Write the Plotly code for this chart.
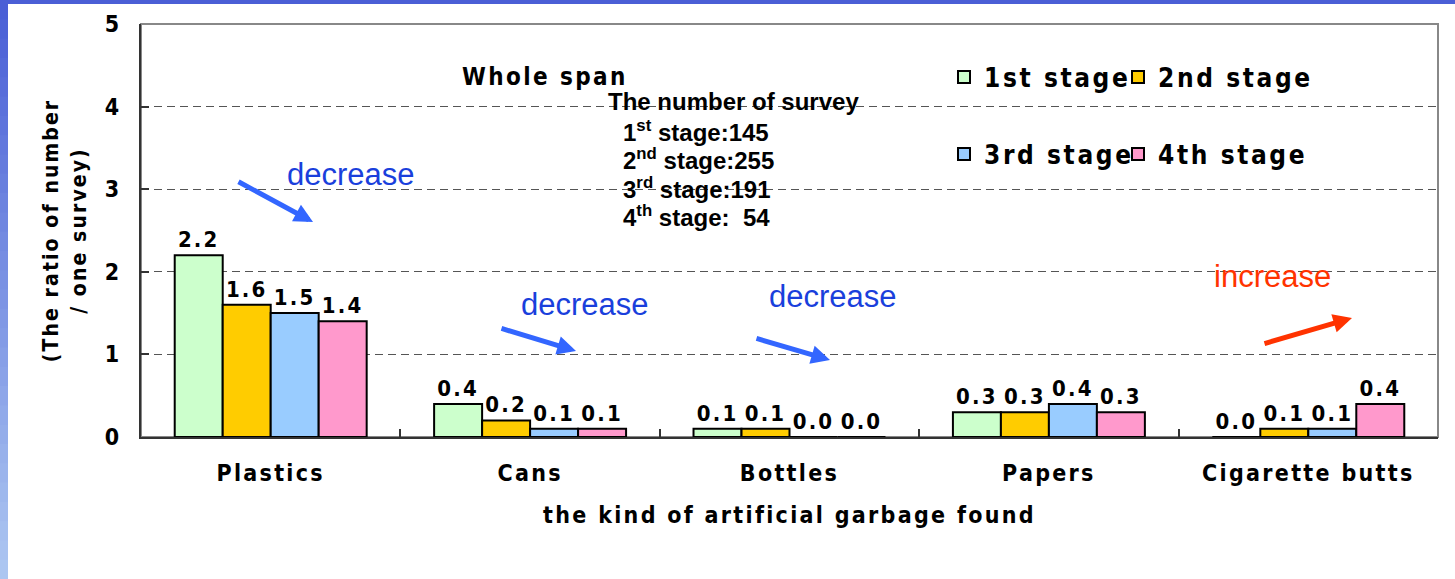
import plotly.graph_objects as go

# ---------------- data ----------------
categories = ["Plastics", "Cans", "Bottles", "Papers", "Cigarette butts"]
stage_names = ["1st stage", "2nd stage", "3rd stage", "4th stage"]
stage1 = [2.2, 0.4, 0.1, 0.3, 0.0]
stage2 = [1.6, 0.2, 0.1, 0.3, 0.1]
stage3 = [1.5, 0.1, 0.0, 0.4, 0.1]
stage4 = [1.4, 0.1, 0.0, 0.3, 0.4]
survey_ordinals = [("1", "st"), ("2", "nd"), ("3", "rd"), ("4", "th")]
survey_counts = [145, 255, 191, 54]
y_ticks = [0, 1, 2, 3, 4, 5]

# ---------------- styling ----------------
colors = ["#CCFFCC", "#FFCC00", "#99CCFF", "#FF99CC"]
W, H = 1455, 579
ML, MR, MT, MB = 141, 17, 24, 142
PW, PH = W - ML - MR, H - MT - MB
COND = "DejaVu Sans Condensed, Liberation Sans Narrow, sans-serif"
SANS = "Liberation Sans, Arial, sans-serif"


def px(x):
    return (x - ML) / PW


def py(y):
    return (H - MB - y) / PH


# legend placement (symbol centre x, row centre y) for each stage
legend_pos = [(962, 77), (1136, 77), (962, 154), (1136, 154)]
legend_ids = ["legend", "legend2", "legend3", "legend4"]

fig = go.Figure()
series = [stage1, stage2, stage3, stage4]
for i, (name, vals) in enumerate(zip(stage_names, series)):
    fig.add_trace(go.Bar(
        x=categories, y=vals, name=name,
        marker=dict(color=colors[i], line=dict(color="black", width=2)),
        texttemplate="%{y:.1f}", textposition="outside",
        textfont=dict(family=COND, size=22, color="black", weight="bold"),
        constraintext="none", cliponaxis=False,
        legend=legend_ids[i],
    ))

shapes = []
# white box behind legend (hides gridlines)
shapes.append(dict(type="rect", xref="paper", yref="paper", layer="between",
                   x0=px(945), x1=px(1292), y0=py(196), y1=py(50),
                   fillcolor="white", line=dict(width=0)))
# plot frame (top/right)
shapes.append(dict(type="rect", xref="paper", yref="paper", layer="between",
                   x0=0, x1=1, y0=0, y1=1, line=dict(color="#888888", width=2)))
# decorative slide frame: top bar and left gradient strip
shapes.append(dict(type="rect", xref="paper", yref="paper", layer="above",
                   x0=px(0), x1=px(W), y0=py(4), y1=py(0),
                   fillcolor="#4b5fd6", line=dict(width=0)))
n = 30
c0 = (74, 95, 214)
c1 = (172, 198, 241)
for k in range(n):
    t = k / (n - 1)
    c = tuple(int(round(c0[j] + (c1[j] - c0[j]) * t)) for j in range(3))
    y0 = k * H / n
    y1 = (k + 1) * H / n + 1
    shapes.append(dict(type="rect", xref="paper", yref="paper", layer="above",
                       x0=px(0), x1=px(8), y0=py(y1), y1=py(y0),
                       fillcolor="rgb(%d,%d,%d)" % c, line=dict(width=0)))

annotations = []
annotations.append(dict(text="Whole span", xref="paper", yref="paper",
                        x=px(545), y=py(77), xanchor="center", yanchor="middle",
                        showarrow=False,
                        font=dict(family=COND, size=24, color="black", weight="bold")))
annotations.append(dict(text="The number of survey", xref="paper", yref="paper",
                        x=px(733), y=py(102), xanchor="center", yanchor="middle",
                        showarrow=False,
                        font=dict(family=SANS, size=24, color="black", weight="bold")))
line_y = [131, 159, 188, 216]
for (num, suf), cnt, yy in zip(survey_ordinals, survey_counts, line_y):
    cnt_txt = str(cnt) if cnt >= 100 else "\u00a0\u00a0" + str(cnt)
    annotations.append(dict(text="%s<sup>%s</sup> stage:%s" % (num, suf, cnt_txt),
                            xref="paper", yref="paper", x=px(621), y=py(yy),
                            xanchor="left", yanchor="middle", showarrow=False,
                            font=dict(family=SANS, size=24, color="black", weight="bold")))

blue_txt = "#1a3fdc"
blue_arrow = "#3366ff"
red = "#ff3300"
trend_text = [("decrease", 351, 174, blue_txt), ("decrease", 585, 304, blue_txt),
              ("decrease", 833, 296, blue_txt), ("increase", 1272, 276, red)]
for t, xx, yy, col in trend_text:
    annotations.append(dict(text=t, xref="paper", yref="paper", x=px(xx), y=py(yy),
                            xanchor="center", yanchor="middle", showarrow=False,
                            font=dict(family=SANS, size=31, color=col)))
arrows = [(313, 222, -76, -41, blue_arrow), (576, 351, -76, -23, blue_arrow),
          (830, 360, -75, -22, blue_arrow), (1352, 318, -89, 26, red)]
for hx, hy, ax, ay, col in arrows:
    annotations.append(dict(text="", xref="paper", yref="paper", x=px(hx), y=py(hy),
                            ax=ax, ay=ay, showarrow=True, arrowhead=2, arrowsize=0.75,
                            arrowwidth=5, arrowcolor=col, standoff=0))

legend_common = dict(orientation="h", xanchor="left", yanchor="middle",
                     bgcolor="rgba(0,0,0,0)", borderwidth=0,
                     font=dict(family=COND, size=26, color="black", weight="bold"))
legends = {}
for lid, (sx, sy) in zip(legend_ids, legend_pos):
    legends[lid] = dict(x=px(sx - 18), y=py(sy), **legend_common)

fig.update_layout(
    width=W, height=H, autosize=False,
    margin=dict(l=ML, r=MR, t=MT, b=MB),
    paper_bgcolor="white", plot_bgcolor="white",
    barmode="group", bargap=0.26, bargroupgap=0,
    showlegend=True,
    xaxis=dict(
        type="category", showline=True, linecolor="#333333", linewidth=2,
        ticks="inside", tickson="boundaries", ticklen=8, tickcolor="#333333",
        tickwidth=1.5, showgrid=False,
        tickfont=dict(family=COND, size=23, color="black", weight="bold"),
        ticklabelstandoff=14,
        title=dict(text="the kind of artificial garbage found", standoff=22,
                   font=dict(family=COND, size=23, color="black", weight="bold")),
    ),
    yaxis=dict(
        range=[0, 5], tickvals=y_ticks, showline=True, linecolor="#333333",
        linewidth=2, ticks="inside", ticklen=8, tickcolor="#333333", tickwidth=1.5,
        showgrid=True, gridcolor="#555555", gridwidth=1, griddash="8px,5px",
        zeroline=False,
        tickfont=dict(family=COND, size=23, color="black", weight="bold"),
        ticklabelstandoff=13,
        title=dict(text="(The ratio of number<br>/ one survey)", standoff=15,
                   font=dict(family=COND, size=21, color="black", weight="bold")),
    ),
    shapes=shapes, annotations=annotations,
    **legends,
)

post = """
var st=document.createElement('style');
st.textContent='body{margin:0;} text[style*="Condensed"]{letter-spacing:0.1em;}';
document.head.appendChild(st);
var gd=document.getElementById('{plot_id}');
gd.querySelectorAll('.infolayer [clip-path]').forEach(function(e){e.removeAttribute('clip-path');});
"""
fig.write_html("out.html", post_script=post, config={"displayModeBar": False})
